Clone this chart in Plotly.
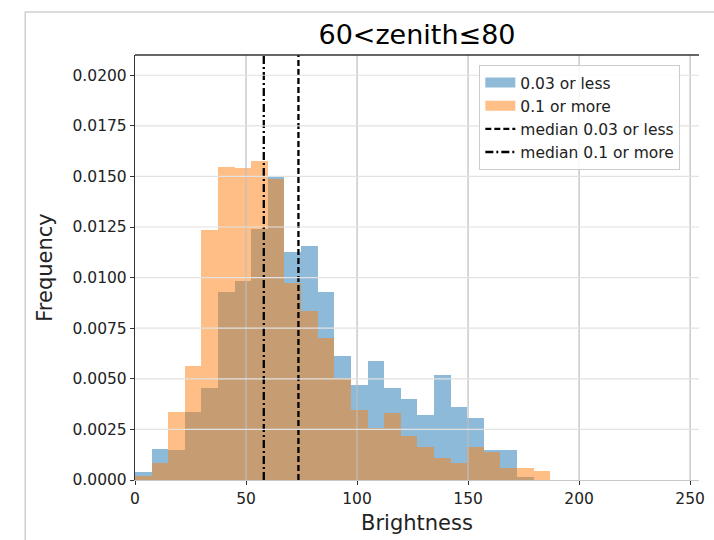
import numpy as np
import plotly.graph_objects as go

# Histogram bins shared by both groups (density-normalised counts)
bin_start = 0.0
bin_width = 7.48

density_low = [0.00041, 0.00152, 0.00149, 0.00334, 0.00455, 0.00927, 0.00985,
               0.01242, 0.01499, 0.01129, 0.01156, 0.00931, 0.00613, 0.00467,
               0.00588, 0.00455, 0.00401, 0.00319, 0.00518, 0.00361, 0.00307,
               0.00149, 0.00149, 0.00016, 0.0]
density_high = [0.00020, 0.00083, 0.00334, 0.00563, 0.01233, 0.01548, 0.01543,
                0.01576, 0.01487, 0.00972, 0.00836, 0.00704, 0.00505, 0.00348,
                0.00257, 0.00331, 0.00215, 0.00162, 0.00108, 0.00083, 0.00162,
                0.00136, 0.00058, 0.00058, 0.00043]

median_low = 73.6
median_high = 58.0

label_low = "0.03 or less"
label_high = "0.1 or more"
label_median_low = "median 0.03 or less"
label_median_high = "median 0.1 or more"

x_ticks = [0, 50, 100, 150, 200, 250]
y_ticks = [0.0, 0.0025, 0.005, 0.0075, 0.01, 0.0125, 0.015, 0.0175, 0.02]
y_tick_labels = ["0.0000", "0.0025", "0.0050", "0.0075", "0.0100",
                 "0.0125", "0.0150", "0.0175", "0.0200"]

x_range = [0, 254]
y_range = [0, 0.021]

BLUE = "#1f77b4"
ORANGE = "#ff7f0e"
FONT = "DejaVu Sans"

centers = bin_start + bin_width * (np.arange(len(density_low)) + 0.5)

fig = go.Figure()

fig.add_trace(go.Bar(x=centers, y=density_low, width=bin_width,
                     marker=dict(color=BLUE, line=dict(width=0)),
                     opacity=0.5, showlegend=False, name=label_low))
fig.add_trace(go.Bar(x=centers, y=density_high, width=bin_width,
                     marker=dict(color=ORANGE, line=dict(width=0)),
                     opacity=0.5, showlegend=False, name=label_high))

# Median markers spanning the full height
fig.add_trace(go.Scatter(x=[median_low, median_low], y=y_range, mode="lines",
                         line=dict(color="black", width=2.3, dash="6px,3px"),
                         name=label_median_low, legendrank=3))
fig.add_trace(go.Scatter(x=[median_high, median_high], y=y_range, mode="lines",
                         line=dict(color="black", width=2.3, dash="8px,3px,2px,3px"),
                         name=label_median_high, legendrank=4))

# Legend swatches for the two histograms
fig.add_trace(go.Scatter(x=[None], y=[None], mode="lines",
                         line=dict(color="rgba(31,119,180,0.5)", width=10),
                         name=label_low, legendrank=1))
fig.add_trace(go.Scatter(x=[None], y=[None], mode="lines",
                         line=dict(color="rgba(255,127,14,0.5)", width=10),
                         name=label_high, legendrank=2))

shapes = []
# grid drawn over the bars
for xv in x_ticks[1:]:
    shapes.append(dict(type="line", xref="x", yref="paper", x0=xv, x1=xv, y0=0, y1=1,
                       line=dict(color="#bdbdbd", width=1.2), layer="above"))
for yv in y_ticks[1:]:
    shapes.append(dict(type="line", xref="paper", yref="y", x0=0, x1=1, y0=yv, y1=yv,
                       line=dict(color="#e2e2e2", width=1.2), layer="above"))
# top spine
shapes.append(dict(type="line", xref="paper", yref="paper", x0=0, x1=1, y0=1, y1=1,
                   line=dict(color="#333333", width=1.3), layer="above"))
# outer frame of the figure
shapes.append(dict(type="rect", xref="paper", yref="paper",
                   x0=-0.1947, x1=1.2, y0=-0.3, y1=1.1012,
                   line=dict(color="#d0d0d0", width=1.5), layer="below"))

fig.update_layout(
    width=714, height=540,
    margin=dict(l=135, r=9, t=55, b=60),
    paper_bgcolor="white", plot_bgcolor="white",
    barmode="overlay", bargap=0,
    font=dict(family=FONT, color="#222222"),
    title=dict(text="60<zenith≤80", font=dict(size=27, color="black", family=FONT),
               x=0.5, xref="paper", xanchor="center",
               y=1 - 35 / 540, yref="container", yanchor="middle"),
    xaxis=dict(range=x_range, tickvals=x_ticks, ticks="outside", ticklen=4,
               tickcolor="#333333", tickwidth=1.2,
               showline=True, linecolor="#c8c8c8", linewidth=1.2,
               showgrid=False, zeroline=False,
               tickfont=dict(size=15.5, family=FONT, color="#222222"),
               title=dict(text="Brightness", standoff=8,
                          font=dict(size=21, family=FONT, color="#222222"))),
    yaxis=dict(range=y_range, tickvals=y_ticks, ticktext=y_tick_labels,
               ticks="outside", ticklen=4, tickcolor="#333333", tickwidth=1.2,
               showline=True, linecolor="#333333", linewidth=1.3,
               showgrid=False, zeroline=False,
               tickfont=dict(size=15.5, family=FONT, color="#222222"),
               title=dict(text="Frequency", standoff=14,
                          font=dict(size=21, family=FONT, color="#222222"))),
    legend=dict(x=0.6105, y=0.9765, xanchor="left", yanchor="top",
                bgcolor="rgba(255,255,255,0.85)", bordercolor="#cccccc", borderwidth=1,
                font=dict(size=15.5, family=FONT, color="#222222"),
                traceorder="normal"),
    shapes=shapes,
)

fig.write_html("out.html")
